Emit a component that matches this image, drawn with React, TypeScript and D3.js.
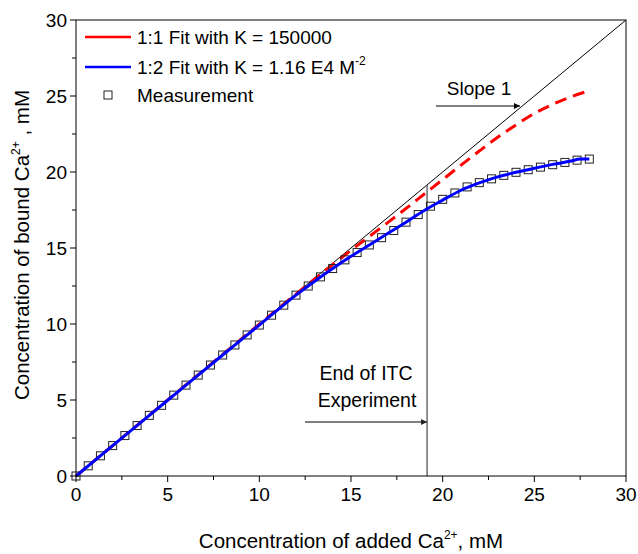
import React from "react";
import * as d3 from "d3";

const W = 638, H = 554;
const margin = { left: 76, right: 12, top: 20, bottom: 78 };

const xTicks = [0, 5, 10, 15, 20, 25, 30];
const yTicks = [0, 5, 10, 15, 20, 25, 30];

// Measurement (added Ca2+, bound Ca2+)
const measX = [0, 0.667, 1.333, 2.0, 2.667, 3.333, 4.0, 4.667, 5.333, 6.0, 6.667, 7.333, 8.0, 8.667, 9.333, 10.0, 10.667, 11.333, 12.0, 12.667, 13.333, 14.0, 14.667, 15.333, 16.0, 16.667, 17.333, 18.0, 18.667, 19.333, 20.0, 20.667, 21.333, 22.0, 22.667, 23.333, 24.0, 24.667, 25.333, 26.0, 26.667, 27.333, 28.0];
const measY = [0, 0.67, 1.33, 2.0, 2.66, 3.32, 3.99, 4.65, 5.32, 5.98, 6.64, 7.3, 7.96, 8.62, 9.28, 9.93, 10.58, 11.24, 11.9, 12.5, 13.1, 13.65, 14.22, 14.7, 15.2, 15.68, 16.15, 16.7, 17.2, 17.75, 18.2, 18.62, 19.02, 19.3, 19.55, 19.78, 19.98, 20.15, 20.32, 20.48, 20.63, 20.78, 20.85];

// 1:2 fit (blue)
const fit2X = [0, 2, 4, 6, 8, 10, 12, 13, 14, 15, 16, 17, 18, 19, 20, 21, 22, 23, 24, 25, 26, 27, 27.5, 28];
const fit2Y = [0, 2.0, 3.99, 5.98, 7.96, 9.93, 11.9, 12.8, 13.65, 14.45, 15.2, 15.95, 16.7, 17.47, 18.15, 18.8, 19.28, 19.68, 19.98, 20.25, 20.5, 20.72, 20.85, 20.85];

// 1:1 fit (red dashed)
const fit1X = [0, 5, 10, 12, 13, 14, 15, 16, 17, 18, 19, 20, 21, 22, 23, 24, 25, 26, 27, 28];
const fit1Y = [0, 5, 9.99, 11.97, 12.95, 13.91, 14.85, 15.76, 16.67, 17.6, 18.55, 19.5, 20.45, 21.38, 22.28, 23.1, 23.85, 24.45, 24.95, 25.35];

const itcEnd = 19.15;

export default function App() {
  const x = d3.scaleLinear().domain([0, 30]).range([margin.left, W - margin.right]);
  const y = d3.scaleLinear().domain([0, 30]).range([H - margin.bottom, margin.top]);
  const x0 = margin.left, x1 = W - margin.right, y0 = H - margin.bottom, y1 = margin.top;

  const line = d3.line<[number, number]>().x(d => x(d[0])).y(d => y(d[1])).curve(d3.curveMonotoneX);
  const red = line(fit1X.map((v, i) => [v, fit1Y[i]]) as [number, number][]) || "";
  const blue = line(fit2X.map((v, i) => [v, fit2Y[i]]) as [number, number][]) || "";

  const minorX = d3.range(0, 30.01, 2.5).filter(v => v % 5 !== 0);
  const font = "'Liberation Sans', Arial, sans-serif";
  const sq = 8;

  return (
    <svg width={W} height={H} style={{ position: "absolute", left: 0, top: 0, background: "#fff" }} fontFamily={font}>
      <defs>
        <marker id="arrB" viewBox="0 0 10 10" refX="10" refY="5" markerWidth="9" markerHeight="6" orient="auto" markerUnits="userSpaceOnUse">
          <path d="M0,0 L10,5 L0,10 z" fill="#000" />
        </marker>
        <marker id="arrG" viewBox="0 0 10 10" refX="10" refY="5" markerWidth="9" markerHeight="6" orient="auto" markerUnits="userSpaceOnUse">
          <path d="M0,0 L10,5 L0,10 z" fill="#222" />
        </marker>
      </defs>

      {/* slope 1 line */}
      <line x1={x(0)} y1={y(0)} x2={x(30)} y2={y(30)} stroke="#000" strokeWidth={1} />

      {/* end of ITC vertical */}
      <line x1={x(itcEnd)} y1={y(0)} x2={x(itcEnd)} y2={y(itcEnd)} stroke="#555" strokeWidth={1.3} />

      {/* red dashed fit */}
      <path d={red} fill="none" stroke="#ff0000" strokeWidth={3} strokeDasharray="12,7" />

      {/* measurement squares */}
      {measX.map((v, i) => (
        <rect key={i} x={x(v) - sq / 2} y={y(measY[i]) - sq / 2} width={sq} height={sq} fill="none" stroke="#222" strokeWidth={1} />
      ))}

      {/* blue fit */}
      <path d={blue} fill="none" stroke="#0000ff" strokeWidth={3} />

      {/* frame */}
      <rect x={x0} y={y1} width={x1 - x0} height={y0 - y1} fill="none" stroke="#000" strokeWidth={1} />

      {/* x ticks */}
      {xTicks.map(t => (
        <g key={"xt" + t}>
          <line x1={x(t)} x2={x(t)} y1={y0} y2={y0 + 6} stroke="#000" />
          <text x={x(t)} y={y0 + 25} textAnchor="middle" fontSize={19}>{t}</text>
        </g>
      ))}
      {minorX.map(t => (
        <line key={"xm" + t} x1={x(t)} x2={x(t)} y1={y0} y2={y0 + 4} stroke="#000" />
      ))}
      {/* y ticks */}
      {yTicks.map(t => (
        <g key={"yt" + t}>
          <line x1={x0 - 6} x2={x0} y1={y(t)} y2={y(t)} stroke="#000" />
          <text x={x0 - 9} y={y(t) + 7} textAnchor="end" fontSize={19}>{t}</text>
        </g>
      ))}
      {minorX.map(t => (
        <line key={"ym" + t} x1={x0 - 4} x2={x0} y1={y(t)} y2={y(t)} stroke="#000" />
      ))}

      {/* axis titles */}
      <text x={(x0 + x1) / 2} y={548} textAnchor="middle" fontSize={20.5}>
        Concentration of added Ca<tspan dy={-9} fontSize={12}>2+</tspan><tspan dy={9}>, mM</tspan>
      </text>
      <text transform={`translate(29,${245}) rotate(-90)`} textAnchor="middle" fontSize={20.5}>
        Concentration of bound Ca<tspan dy={-9} fontSize={12}>2+</tspan><tspan dy={9}> , mM</tspan>
      </text>

      {/* legend */}
      <line x1={85} x2={131} y1={37} y2={37} stroke="#ff0000" strokeWidth={2.5} />
      <text x={137} y={44} fontSize={19}>1:1 Fit with K = 150000</text>
      <line x1={85} x2={131} y1={67} y2={67} stroke="#0000ff" strokeWidth={2.5} />
      <text x={137} y={74} fontSize={19}>
        1:2 Fit with K = 1.16 E4 M<tspan dy={-9} fontSize={12}>-2</tspan>
      </text>
      <rect x={104} y={91} width={sq} height={sq} fill="none" stroke="#222" strokeWidth={1} />
      <text x={137} y={102} fontSize={19}>Measurement</text>

      {/* Slope 1 annotation */}
      <text x={479} y={95} textAnchor="middle" fontSize={19}>Slope 1</text>
      <line x1={436} x2={520} y1={106} y2={106} stroke="#000" strokeWidth={1} markerEnd="url(#arrB)" />

      {/* End of ITC annotation */}
      <text x={366} y={380} textAnchor="middle" fontSize={19.5}>End of ITC</text>
      <text x={367} y={407} textAnchor="middle" fontSize={19.5}>Experiment</text>
      <line x1={305} x2={x(itcEnd)} y1={422} y2={422} stroke="#555" strokeWidth={1.3} markerEnd="url(#arrG)" />
    </svg>
  );
}
